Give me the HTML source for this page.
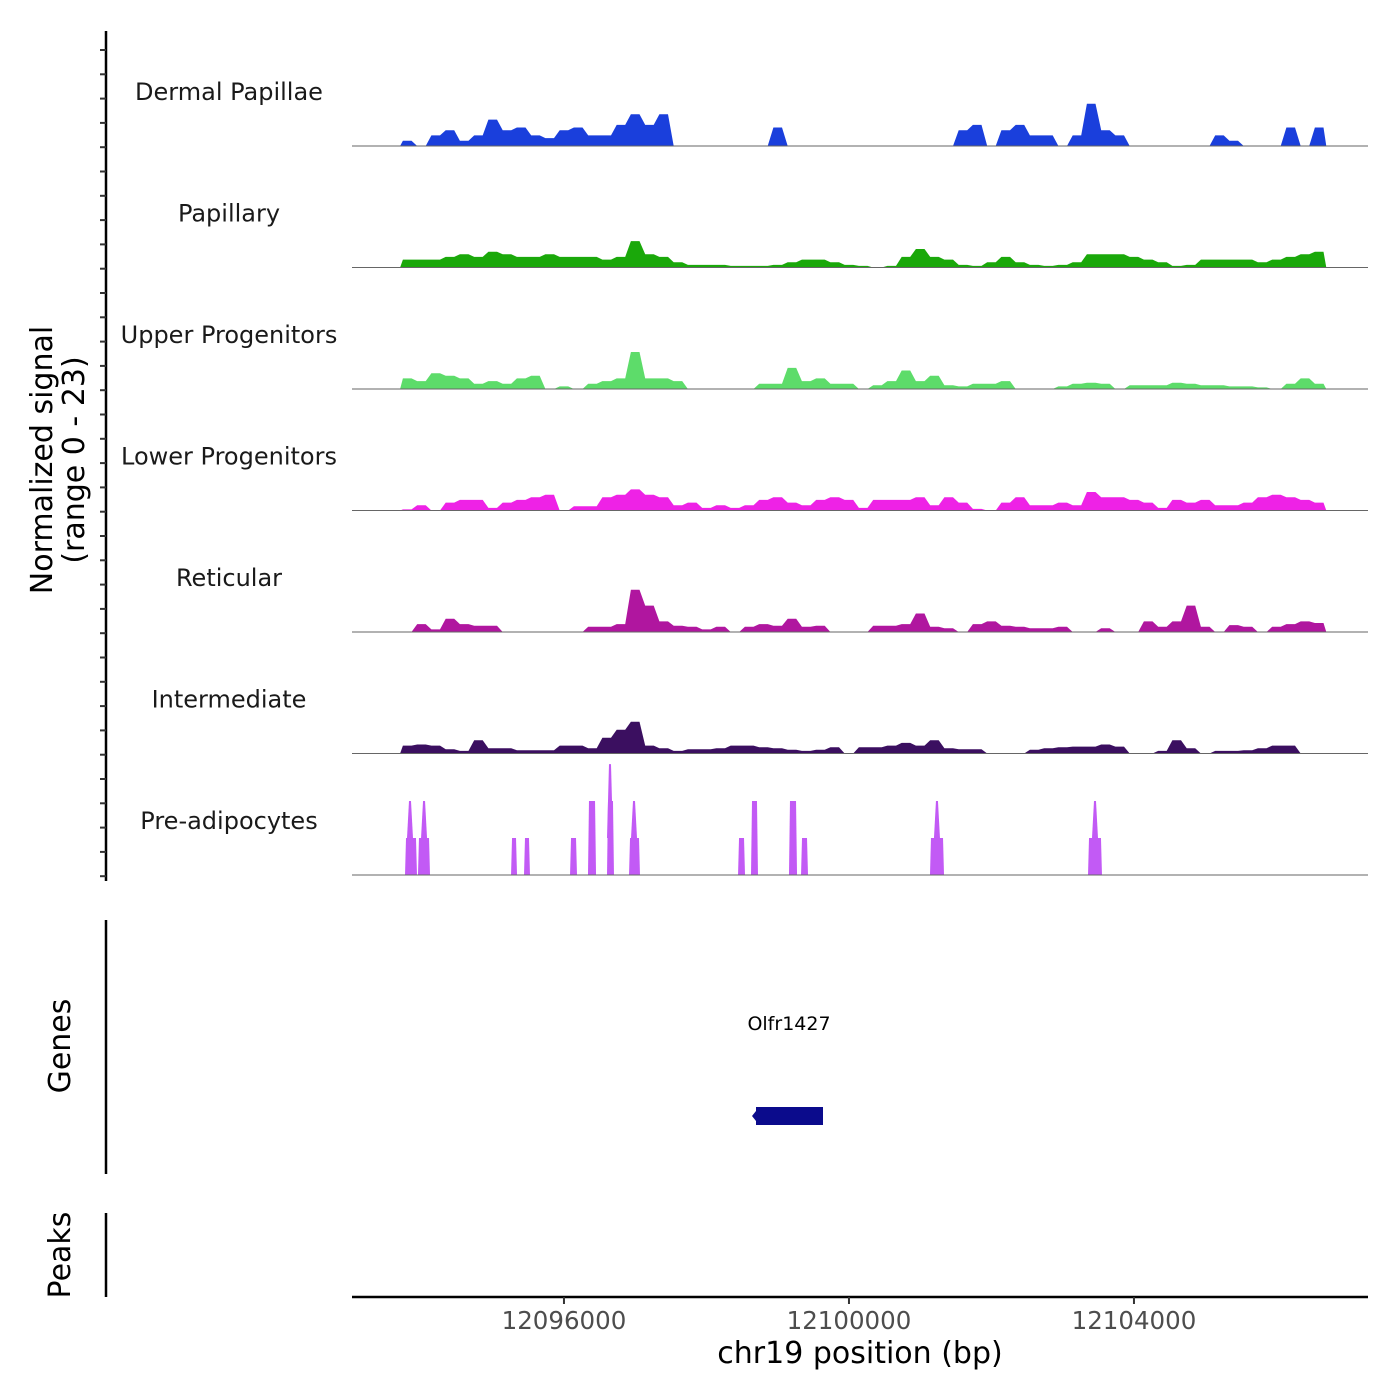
<!DOCTYPE html>
<html><head><meta charset="utf-8">
<style>
html,body{margin:0;padding:0;background:#fff;}
svg{display:block;font-family:"DejaVu Sans","Liberation Sans",sans-serif;}
</style></head>
<body>
<svg id="chart" width="1400" height="1400" viewBox="0 0 1400 1400" xmlns="http://www.w3.org/2000/svg">
<rect width="1400" height="1400" fill="#fff"/>
<g id="signal"></g>
<line x1="106" y1="31" x2="106" y2="881" stroke="#000" stroke-width="2.5"/>
<g id="yticks"></g>
<text transform="translate(52,460) rotate(-90)" text-anchor="middle" font-size="30" fill="#000">Normalized signal</text>
<text transform="translate(84,460) rotate(-90)" text-anchor="middle" font-size="30" fill="#000">(range 0 - 23)</text>
<line x1="106" y1="920" x2="106" y2="1174" stroke="#000" stroke-width="2.5"/>
<text transform="translate(70,1046) rotate(-90)" text-anchor="middle" font-size="30" fill="#000">Genes</text>
<text x="789" y="1030" text-anchor="middle" font-size="19" fill="#000">Olfr1427</text>
<rect x="756" y="1107" width="67" height="18" fill="#0b0b8c"/>
<polygon points="756,1111 752,1116 756,1121" fill="#0b0b8c"/>
<line x1="106" y1="1213" x2="106" y2="1297" stroke="#000" stroke-width="2.5"/>
<text transform="translate(70,1255) rotate(-90)" text-anchor="middle" font-size="30" fill="#000">Peaks</text>
<line x1="352" y1="1297" x2="1368" y2="1297" stroke="#000" stroke-width="2.5"/>
<g id="xticks"></g>
<text x="860" y="1363" text-anchor="middle" font-size="30" fill="#000">chr19 position (bp)</text>
</svg>
<script>
const trackNames = ["Dermal Papillae","Papillary","Upper Progenitors","Lower Progenitors","Reticular","Intermediate","Pre-adipocytes"];
const trackColors = ["#1a3fdc","#1aa80a","#5ddc6a","#ee22e6","#b0169f","#3b0f60","#c25af5"];
const xTickValues = [12096000,12100000,12104000];
const xTickLabels = ["12096000","12100000","12104000"];
const binStartBp = 12093700;
const binWidthBp = 200;
const dermal = [1,0,2,3,1,2,5,3,3.5,2,1.5,3,3.5,2,2,4,6,4,6,0,0,0,0,0,0,0,3.5,0,0,0,0,0,0,0,0,0,0,0,0,3,4,0,3,4,2,2,0,2,8,3,2,0,0,0,0,0,0,2,1,0,0,0,3.5,0,3.5];
const papillary = [1.5,1.5,1.5,2,2.5,2,3,2.5,2,2,2.5,2,2,2,1.5,2,5,2.5,2,1,0.5,0.5,0.5,0.3,0.3,0.3,0.5,1,1.5,1.5,1,0.5,0.3,0,0.3,2,3.5,2,1.5,0.5,0.3,1,2,1,0.5,0.3,0.5,1,2.5,2.5,2.5,2,1.5,1,0.3,0.5,1.5,1.5,1.5,1.5,1,1.5,2,2.5,3];
const upper = [2,1.5,3,2.5,2,1,1.5,1,2,2.5,0,0.5,0,1,1.5,2,7,2,2,1.5,0,0,0,0,0,1,1,4,1.5,2,1,1,0,0.7,1.5,3.5,1.5,2.5,0.7,0.5,1,1,1.5,0,0,0,0.5,1,1.2,1,0,0.7,0.7,0.7,1.2,1,0.7,0.7,0.5,0.5,0.3,0,1,2,1];
const lower = [0.2,1,0,1.5,2,2,0.5,1.5,2,2.5,3,0,0.8,0.8,2.5,3,4,3,2.5,1,1.5,0.5,1,0.5,1,2,2.5,1.5,1,2,2.5,2,0.5,2,2,2,2.5,1,2.5,1.5,0.3,0,1.5,2.5,1,1,1.5,1,3.5,2.5,2.5,2,1.5,0.5,2,1.5,2,1,1,1.5,2.5,3,2.5,2,1.5];
const reticular = [0,1.5,0.5,2.5,1.5,1.2,1.2,0,0,0,0,0,0,1,1,1.5,8,5,2,1.2,1,0.5,1,0,1,1.5,1.2,2.5,1,1.2,0,0,0,1.2,1.2,1.5,3.5,1,0.7,0,1.5,2,1.2,1,0.7,0.7,1,0,0,0.7,0,0,2,1,2,5,1,0,1.3,1,0,1,1.5,2,1.7];
const intermediate = [1.5,1.7,1.5,0.8,0.5,2.5,1,1,0.6,0.6,0.6,1.5,1.5,1,3,4.5,6,1.5,1,0.5,0.8,0.8,1,1.5,1.5,1.2,1,0.7,0.5,0.7,1.2,0,1.2,1.2,1.5,2,1.5,2.5,1,0.8,0.8,0,0,0,0.7,1,1.2,1.3,1.3,1.7,1.3,0,0,0.5,2.5,1,0,0.5,0.5,0.6,1,1.5,1.5,0,0];
const binnedTracks = [dermal,papillary,upper,lower,reticular,intermediate];
const preStart = [12093769,12093951,12095257,12095439,12096085,12096337,12096604,12096913,12098443,12098625,12099158,12099327,12101137,12103355];
const preEnd   = [12093937,12094120,12095341,12095523,12096183,12096450,12096702,12097067,12098541,12098723,12099271,12099425,12101334,12103551];
const preValue = [7,7,7,7,7,14,14,7,7,14,14,7,7,7];
const spikePos = [12093839,12094036,12096646,12096983,12101235,12103453];
const spikeValue = [14,14,21,14,14,14];

const NS = "http://www.w3.org/2000/svg";
const xMinBp = 12093025, pxPerBp = 0.07125, xLeft = 352, xRight = 1368;
const trackH = 121.5, firstBase = 146, yMax = 23;
function xs(bp){ return xLeft + (bp - xMinBp) * pxPerBp; }
function ys(v, i){ return firstBase + i*trackH - v * (trackH / yMax); }
function mk(tag, attrs, parent){ const e = document.createElementNS(NS, tag); for (const k in attrs) e.setAttribute(k, attrs[k]); parent.appendChild(e); return e; }

const sig = document.getElementById('signal');
trackNames.forEach((name, i) => {
  const base = ys(0, i);
  const g = mk('g', {}, sig);
  
  
  let pts = [];
  if (i < 6) {
    const arr = binnedTracks[i];
    pts.push([xs(binStartBp), base]);
    arr.forEach((v, k) => {
      const bs = binStartBp + k * binWidthBp;
      pts.push([xs(bs + binWidthBp * 0.2), ys(v, i)]);
      pts.push([xs(bs + binWidthBp * 0.8), ys(v, i)]);
    });
    pts.push([xs(binStartBp + arr.length * binWidthBp), base]);
    const p = mk('polygon', {points: pts.map(q => q[0].toFixed(1) + ',' + q[1].toFixed(1)).join(' '), fill: trackColors[i]}, g);
    
    
  } else {
    preStart.forEach((s, k) => {
      const x0 = xs(s), x1 = xs(preEnd[k]), y = ys(preValue[k], i);
      const r = mk('polygon', {points: `${x0},${base} ${x0+1},${y} ${x1-1},${y} ${x1},${base}`, fill: trackColors[i]}, g);
      
      
    });
    spikePos.forEach((s, k) => {
      const x = xs(s), y = ys(spikeValue[k], i), yb = ys(7, i);
      const t = mk('polygon', {points: `${x-3},${yb} ${x-1},${y} ${x+1},${y} ${x+3},${yb}`, fill: trackColors[i]}, g);
      
      
    });
  }
  const bl = mk('line', {x1: xLeft, x2: xRight, y1: base, y2: base, stroke: '#666', 'stroke-width': 1}, g);
  
  
  const lab = mk('text', {x: 229, y: base - 46, 'text-anchor': 'middle', 'font-size': 24, fill: '#1a1a1a'}, g);
  lab.textContent = name;
  
  
});

const yt = document.getElementById('yticks');
for (let y = 50; y <= 880; y += 24.3) {
  const t = mk('line', {x1: 100, x2: 106, y1: y, y2: y, stroke: '#333', 'stroke-width': 2}, yt);
  
  
}
const xt = document.getElementById('xticks');
xTickValues.forEach((v, k) => {
  const x = xs(v);
  const t = mk('line', {x1: x, x2: x, y1: 1297, y2: 1304, stroke: '#333', 'stroke-width': 2}, xt);
  
  
  const l = mk('text', {x: x, y: 1329, 'text-anchor': 'middle', 'font-size': 24.5, fill: '#4d4d4d'}, xt);
  l.textContent = xTickLabels[k];
  
  
});
</script>
</body></html>
